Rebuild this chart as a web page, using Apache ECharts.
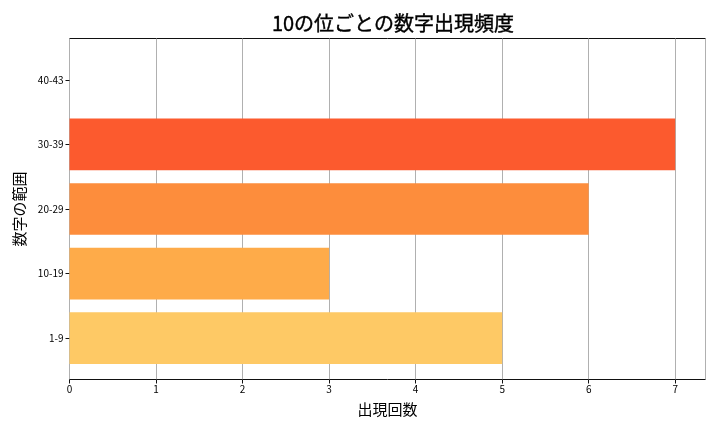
<!DOCTYPE html>
<html>
<head>
<meta charset="utf-8">
<script src="https://cdn.jsdelivr.net/npm/echarts@6/dist/echarts.min.js"></script>
<style>html,body{margin:0;padding:0;background:#fff}#c{width:720px;height:432px}</style>
</head>
<body>
<div id="c"></div>
<script>
const categories = ['1-9', '10-19', '20-29', '30-39', '40-43'];
const counts = [5, 3, 6, 7, 0];
const colors = ['#fec965', '#feab49', '#fd8d3c', '#fc5a2e', '#fff3b0'];
const xTicks = [0, 1, 2, 3, 4, 5, 6, 7];
const titleText = '10の位ごとの数字出現頻度';
const xName = '出現回数';
const yName = '数字の範囲';

const FONT = '"Noto Sans CJK JP", "Noto Sans", sans-serif';
const chart = echarts.init(document.getElementById('c'), null, {renderer: 'canvas'});
const data = counts.map((v, i) => [v, i]);
chart.setOption({
  animation: false,
  title: {
    text: titleText, left: 388, top: 8, textAlign: 'center',
    textStyle: {fontFamily: FONT, fontSize: 20, fontWeight: 'normal', color: '#000', textBorderColor: '#000', textBorderWidth: 0.4}
  },
  grid: {left: 69.5, right: 14.5, top: 38.5, bottom: 52.5, show: true, borderColor: '#111', borderWidth: 1, backgroundColor: 'transparent'},
  xAxis: {
    type: 'value', min: 0, max: 7.35, interval: 1,
    name: xName, nameLocation: 'middle', nameGap: 22,
    nameTextStyle: {fontFamily: FONT, fontSize: 15, color: '#000'},
    axisLine: {show: false, onZero: false},
    axisTick: {show: true, length: 4, lineStyle: {color: '#111'}},
    axisLabel: {fontFamily: FONT, fontSize: 10, color: '#000', margin: 5, showMaxLabel: false,
      formatter: v => (xTicks.indexOf(v) >= 0 ? String(v) : '')},
    splitLine: {show: true, lineStyle: {color: '#b0b0b0', width: 1}}
  },
  yAxis: {
    type: 'value', min: -0.64, max: 4.64,
    name: yName, nameLocation: 'middle', nameGap: 42, nameRotate: 90,
    nameTextStyle: {fontFamily: FONT, fontSize: 15, color: '#000'},
    axisLine: {show: false, onZero: false},
    axisTick: {show: true, length: 4, lineStyle: {color: '#111'}, customValues: [0, 1, 2, 3, 4]},
    axisLabel: {fontFamily: FONT, fontSize: 10, color: '#000', margin: 6,
      customValues: [0, 1, 2, 3, 4],
      formatter: v => categories[Math.round(v)] || ''},
    splitLine: {show: false}
  },
  series: [{
    type: 'custom',
    data: data,
    encode: {x: 0, y: 1},
    renderItem: function (params, api) {
      const v = api.value(0), y = api.value(1);
      const p0 = api.coord([0, y + 0.4]);
      const p1 = api.coord([v, y - 0.4]);
      return {
        type: 'rect',
        shape: {x: p0[0], y: p0[1], width: p1[0] - p0[0], height: p1[1] - p0[1]},
        style: {fill: colors[params.dataIndex]}
      };
    },
    z: 1
  }]
});
</script>
</body>
</html>
